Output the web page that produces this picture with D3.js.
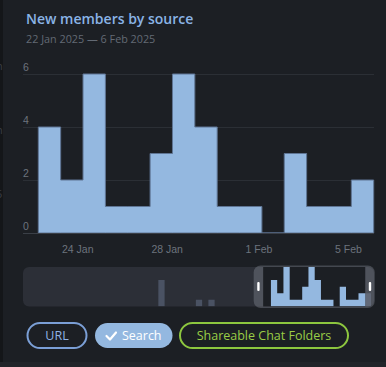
<!DOCTYPE html>
<html>
<head>
<meta charset="utf-8">
<script src="https://cdn.jsdelivr.net/npm/d3@7"></script>
<style>
  html, body { margin: 0; padding: 0; background: #1c1f24; }
  svg { display: block; font-family: "Open Sans", "Noto Sans", sans-serif; }
  .axis text { fill: #6c737d; font-size: 10.5px; }
  .grid line { stroke: #2b2f35; }
</style>
</head>
<body>
<svg id="chart"></svg>
<script>
const width = 386;
const height = 367;

// main series: members per day
const days = ["2025-01-22", "2025-01-23", "2025-01-24", "2025-01-25", "2025-01-26",
  "2025-01-27", "2025-01-28", "2025-01-29", "2025-01-30", "2025-01-31",
  "2025-02-01", "2025-02-02", "2025-02-03", "2025-02-04", "2025-02-05", "2025-02-06"];
const members = [4, 2, 6, 1, 1, 3, 6, 4, 1, 1, 0, 3, 1, 1, 2, 2];

// earlier days only visible in the overview strip
const earlierDays = ["2024-12-14", "2025-01-03", "2025-01-04", "2025-01-05",
  "2025-01-09", "2025-01-10", "2025-01-11", "2025-01-12", "2025-01-13", "2025-01-21"];
const earlierMembers = [0, 0, 4, 0, 0, 1, 0, 1, 0, 0];

const yTicks = [0, 2, 4, 6];
const xTickDays = ["2025-01-24", "2025-01-28", "2025-02-01", "2025-02-05"];
const sources = ["URL", "Search", "Shareable Chat Folders"];
const sourceColors = ["#7b9fd6", "#94b8e0", "#8dc63f"];
const sourceOn = [false, true, false];

const parse = d3.utcParse("%Y-%m-%d");
const series = days.map((d, i) => ({ date: parse(d), value: members[i] }));
const overview = earlierDays
  .map((d, i) => ({ date: parse(d), value: earlierMembers[i] }))
  .concat(series);

const svg = d3.select("#chart").attr("width", width).attr("height", height);

// page edges
svg.append("rect").attr("x", 0).attr("y", 0).attr("width", 3).attr("height", height).attr("fill", "#141619");
svg.append("rect").attr("x", 0).attr("y", 362).attr("width", width).attr("height", 5).attr("fill", "#212429");
svg.selectAll("text.behind")
  .data([["n", 70], ["n", 134], ["5", 198]])
  .join("text")
  .attr("class", "behind")
  .attr("x", -4)
  .attr("y", (d) => d[1])
  .attr("fill", "#3a3e45")
  .attr("font-size", 11)
  .text((d) => d[0]);

// header
svg.append("text")
  .attr("x", 26).attr("y", 24)
  .attr("fill", "#8ab4e6")
  .attr("font-size", 14)
  .attr("font-weight", 600)
  .text("New members by source");
svg.append("text")
  .attr("x", 26).attr("y", 43)
  .attr("fill", "#636a74")
  .attr("font-size", 10.8)
  .text("22 Jan 2025 — 6 Feb 2025");

// main chart
const x = d3.scaleUtc()
  .domain([series[0].date, series[series.length - 1].date])
  .range([38.3, 373.7]);
const y = d3.scaleLinear().domain([0, 6]).range([233, 74]);

svg.append("g")
  .attr("class", "grid axis")
  .attr("transform", "translate(23,0)")
  .call(d3.axisRight(y).tickValues(yTicks).tickSize(351).tickFormat(d3.format("d")))
  .call((g) => g.select(".domain").remove())
  .call((g) => g.selectAll(".tick line").attr("stroke", (d) => (d === 0 ? "#3a3f47" : "#2b2f35")))
  .call((g) => g.selectAll(".tick text").attr("x", 0).attr("dy", -4).attr("text-anchor", "start"));

const area = d3.area()
  .curve(d3.curveStepAfter)
  .x((d) => x(d.date))
  .y0(y(0))
  .y1((d) => y(d.value));

svg.append("path")
  .datum(series)
  .attr("d", area)
  .attr("fill", "#94b8e0")
  .attr("stroke", "#5f7594")
  .attr("stroke-width", 1);
// redraw the zero line over the outline
svg.append("line")
  .attr("x1", 23).attr("x2", 374)
  .attr("y1", y(0) + 0.5).attr("y2", y(0) + 0.5)
  .attr("stroke", "#3a3f47");

svg.append("g")
  .attr("class", "axis")
  .attr("transform", "translate(0,239)")
  .call(d3.axisBottom(x).tickValues(xTickDays.map(parse)).tickSize(0).tickFormat(d3.utcFormat("%-d %b")))
  .call((g) => g.select(".domain").remove())
  .call((g) => g.selectAll(".tick text").attr("text-anchor", "end").attr("dx", 10).attr("dy", 11).attr("fill", "#6f7885"));

// overview strip
const xm = d3.scaleUtc()
  .domain([parse("2024-12-14"), parse("2025-02-07")])
  .range([27, 371]);
const ym = d3.scaleLinear().domain([0, 6]).range([306.3, 267]);
const areaM = d3.area()
  .curve(d3.curveStepAfter)
  .x((d) => xm(d.date))
  .y0(ym(0))
  .y1((d) => ym(d.value));

const overviewData = overview.concat([{ date: parse("2025-02-07"), value: 0 }]);

svg.append("rect")
  .attr("x", 23).attr("y", 267).attr("width", 351).attr("height", 39.5)
  .attr("rx", 6).attr("fill", "#2c2f37");
svg.append("defs").append("clipPath").attr("id", "ovClip")
  .append("rect").attr("x", 23).attr("y", 267).attr("width", 351).attr("height", 39.5).attr("rx", 6);
svg.append("path")
  .datum(overviewData)
  .attr("d", areaM)
  .attr("clip-path", "url(#ovClip)")
  .attr("fill", "#4a5263");

const selStart = xm(parse("2025-01-21")) - 1.5;
const selEnd = xm(parse("2025-02-06")) + 0.5;
const handleW = 9.5;
svg.append("rect")
  .attr("x", selStart - handleW).attr("y", 265.5)
  .attr("width", selEnd - selStart + 2 * handleW).attr("height", 42.5)
  .attr("rx", 7).attr("fill", "#8c949e").attr("fill-opacity", 0.36);
svg.select("defs").append("clipPath").attr("id", "selClip")
  .append("rect").attr("x", selStart).attr("y", 267).attr("width", selEnd - selStart).attr("height", 39.5);
svg.append("rect")
  .attr("x", selStart).attr("y", 267).attr("width", selEnd - selStart).attr("height", 39.5)
  .attr("fill", "#1c1f24");
svg.append("path")
  .datum(overviewData)
  .attr("d", areaM)
  .attr("clip-path", "url(#selClip)")
  .attr("fill", "#94b8e0");
svg.selectAll("rect.grip")
  .data([selStart - handleW / 2, selEnd + handleW / 2])
  .join("rect")
  .attr("class", "grip")
  .attr("x", (d) => d - 1.2).attr("y", 282)
  .attr("width", 2.4).attr("height", 9)
  .attr("rx", 1).attr("fill", "#ffffff");

// source toggles
const btnX = [27.5, 95, 180];
const btnW = [59, 77.5, 168];
const btn = svg.selectAll("g.btn")
  .data(sources)
  .join("g")
  .attr("class", "btn")
  .attr("transform", (d, i) => `translate(${btnX[i]},323)`);
btn.append("rect")
  .attr("width", (d, i) => btnW[i]).attr("height", 25).attr("rx", 12.5)
  .attr("fill", (d, i) => (sourceOn[i] ? sourceColors[i] : "none"))
  .attr("stroke", (d, i) => sourceColors[i])
  .attr("stroke-width", (d, i) => (sourceOn[i] ? 0 : 2));
btn.append("text")
  .attr("x", (d, i) => btnW[i] / 2 + (sourceOn[i] ? 8 : 0))
  .attr("y", 17)
  .attr("text-anchor", "middle")
  .attr("font-size", 12.5)
  .attr("fill", (d, i) => (sourceOn[i] ? "#ffffff" : (i === 2 ? "#9acd46" : "#8fb2e6")))
  .text((d) => d);
btn.filter((d, i) => sourceOn[i])
  .append("path")
  .attr("d", "M11.5,13 L15,16.5 L21,9.5")
  .attr("fill", "none")
  .attr("stroke", "#ffffff")
  .attr("stroke-width", 2.2)
  .attr("stroke-linecap", "round")
  .attr("stroke-linejoin", "round");
</script>
</body>
</html>
